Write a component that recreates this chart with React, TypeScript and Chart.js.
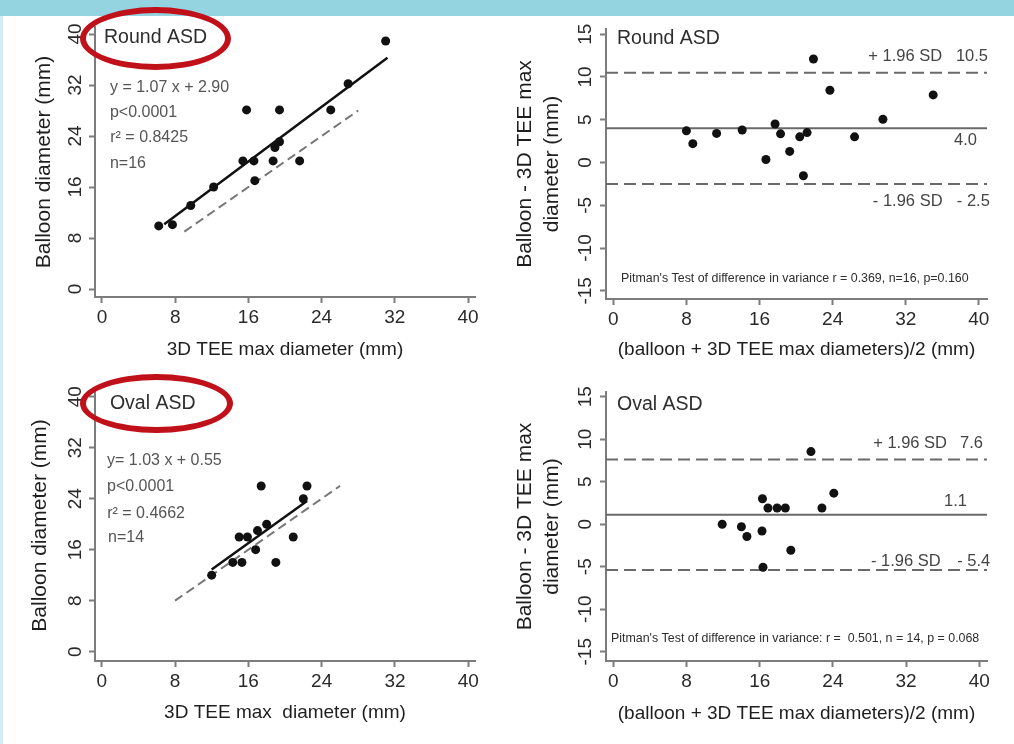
import React, { useEffect, useRef } from "react";
import { Chart, registerables } from "chart.js";

Chart.register(...registerables);

const FONT = "'Liberation Sans', Arial, Helvetica, sans-serif";

// ---------- tick labels ----------
const diameterTicks = [0, 8, 16, 24, 32, 40];
const differenceTicks = [-15, -10, -5, 0, 5, 10, 15];

// ---------- Round ASD ----------
const roundTee = [6.2, 7.7, 9.7, 12.2, 15.4, 15.8, 16.6, 16.7, 18.7, 18.9, 19.4, 19.4, 21.6, 25.0, 26.9, 31.0];
const roundBalloon = [9.9, 10.1, 13.1, 16.0, 20.1, 28.1, 20.1, 17.0, 20.1, 22.2, 23.1, 28.1, 20.1, 28.1, 32.2, 38.9];
const roundFitRange = [6.8, 31.2];
const roundFitCoef = [1.07, 2.9];
const roundIdentityRange = [9, 28];
const roundMean = [8.0, 8.7, 11.3, 14.1, 17.7, 16.7, 18.3, 19.3, 20.4, 21.2, 20.8, 21.9, 23.7, 26.4, 29.5, 35.0];
const roundDiff = [3.7, 2.2, 3.4, 3.8, 4.5, 0.35, 3.35, 1.3, 3.0, 3.5, -1.55, 12.1, 8.45, 3.0, 5.06, 7.9];
const roundLimits = [10.5, 4.0, -2.5];

// ---------- Oval ASD ----------
const ovalTee = [12.0, 14.3, 15.3, 15.0, 15.9, 16.8, 17.0, 17.4, 18.0, 19.0, 20.9, 22.0, 22.4];
const ovalBalloon = [12.0, 14.0, 14.0, 18.0, 18.0, 16.0, 19.0, 26.0, 20.0, 14.0, 18.0, 24.0, 26.0];
const ovalFitRange = [12.0, 22.4];
const ovalFitCoef = [1.03, 0.55];
const ovalIdentityRange = [8, 26];
const ovalMean = [11.9, 14.0, 14.6, 16.25, 16.3, 16.36, 16.9, 17.9, 18.8, 19.4, 21.6, 22.8, 24.1];
const ovalDiff = [0, -0.3, -1.45, -0.8, 3.0, -5.06, 1.9, 1.9, 1.9, -3.06, 8.54, 1.9, 3.65];
const ovalLimits = [7.6, 1.1, -5.4];

// ---------- helpers ----------
const AXIS = "#7c7c7c";

type Note = { x: number; y: number; text: string; size: number; color: string; align?: CanvasTextAlign };
type HLine = { value: number; dash: number[] };

const notesPlugin = {
  id: "notes",
  beforeDatasetsDraw(chart: any, _a: any, opts: any) {
    const { ctx, chartArea, scales } = chart;
    const lines: HLine[] = opts.hlines || [];
    lines.forEach((l) => {
      const py = scales.y.getPixelForValue(l.value);
      ctx.save();
      ctx.strokeStyle = "#6a6a6a";
      ctx.lineWidth = 2;
      ctx.setLineDash(l.dash);
      ctx.beginPath();
      ctx.moveTo(chartArea.left, py);
      ctx.lineTo(chartArea.right, py);
      ctx.stroke();
      ctx.restore();
    });
  },
  afterDraw(chart: any, _a: any, opts: any) {
    const { ctx, scales } = chart;
    const notes: Note[] = opts.notes || [];
    notes.forEach((n) => {
      ctx.save();
      ctx.font = `${n.size}px ${FONT}`;
      ctx.fillStyle = n.color;
      ctx.textBaseline = "middle";
      ctx.textAlign = n.align || "left";
      ctx.fillText(n.text, scales.x.getPixelForValue(n.x), scales.y.getPixelForValue(n.y));
      ctx.restore();
    });
  },
};

const points = (xs: number[], ys: number[]) => xs.map((x, i) => ({ x, y: ys[i] }));

const scatterSet = (xs: number[], ys: number[]) => ({
  data: points(xs, ys),
  pointRadius: 4.5,
  pointBackgroundColor: "#111",
  pointBorderWidth: 0,
  showLine: false,
  order: 0,
});

const fitSet = (range: number[], coef: number[]) => ({
  data: range.map((x) => ({ x, y: coef[0] * x + coef[1] })),
  showLine: true,
  borderColor: "#111",
  borderWidth: 2.5,
  pointRadius: 0,
  order: 1,
});

const identitySet = (range: number[]) => ({
  data: range.map((x) => ({ x, y: x })),
  showLine: true,
  borderColor: "#777",
  borderWidth: 2,
  borderDash: [9, 5],
  pointRadius: 0,
  order: 2,
});

interface Spec {
  datasets: any[];
  xMin: number; xMax: number; yMin: number; yMax: number;
  xTicks: number[]; yTicks: number[];
  xTitle: string; yTitle: string | string[];
  yTitleLH: number; yTitlePad: number; xTitlePad: number; yTickPad: number;
  yAxisWidth: number; xAxisHeight: number; padTop: number; padRight: number;
  notes: Note[]; hlines: HLine[];
}

function buildConfig(p: Spec): any {
  return {
    type: "scatter",
    data: { datasets: p.datasets },
    plugins: [notesPlugin],
    options: {
      responsive: false,
      animation: false,
      events: [],
      layout: { padding: { top: p.padTop, right: p.padRight, left: 0, bottom: 0 } },
      plugins: {
        legend: { display: false },
        tooltip: { enabled: false },
        notes: { notes: p.notes, hlines: p.hlines },
      },
      scales: {
        x: {
          type: "linear",
          position: "bottom",
          min: p.xMin,
          max: p.xMax,
          afterBuildTicks: (s: any) => { s.ticks = p.xTicks.map((v) => ({ value: v })); },
          afterFit: (s: any) => { s.height = p.xAxisHeight; },
          border: { display: true, color: AXIS, width: 2 },
          grid: { display: true, drawOnChartArea: false, drawTicks: true, tickLength: 6, tickWidth: 2, tickColor: AXIS },
          ticks: { autoSkip: false, maxRotation: 0, minRotation: 0, padding: 3, color: "#2a2a2a", font: { family: FONT, size: 19 } },
          title: { display: true, text: p.xTitle, color: "#1e1e1e", font: { family: FONT, size: 19 }, padding: { top: 0, bottom: p.xTitlePad } },
        },
        y: {
          type: "linear",
          position: "left",
          min: p.yMin,
          max: p.yMax,
          afterBuildTicks: (s: any) => { s.ticks = p.yTicks.map((v) => ({ value: v })); },
          afterFit: (s: any) => { s.width = p.yAxisWidth; },
          border: { display: true, color: AXIS, width: 2 },
          grid: { display: true, drawOnChartArea: false, drawTicks: true, tickLength: 6, tickWidth: 2, tickColor: AXIS },
          ticks: { autoSkip: false, minRotation: 90, maxRotation: 90, crossAlign: "center", padding: p.yTickPad, color: "#2a2a2a", font: { family: FONT, size: 19 } },
          title: { display: true, text: p.yTitle, color: "#1e1e1e", font: { family: FONT, size: 21, lineHeight: p.yTitleLH }, padding: { top: p.yTitlePad, bottom: 0 } },
        },
      },
    },
  };
}

const fmtLo = (v: number) => `- ${Math.abs(v).toFixed(1)}`;

const panel1: Spec = {
  datasets: [scatterSet(roundTee, roundBalloon), fitSet(roundFitRange, roundFitCoef), identitySet(roundIdentityRange)],
  xMin: -0.765, xMax: 40.765, yMin: -1.25, yMax: 41.1,
  xTicks: diameterTicks, yTicks: diameterTicks,
  xTitle: "3D TEE max diameter (mm)", yTitle: "Balloon diameter (mm)",
  yTitleLH: 1.2, yTitlePad: 31.4, xTitlePad: 10.6, yTickPad: 3,
  yAxisWidth: 95, xAxisHeight: 75, padTop: 27, padRight: 30,
  notes: [
    { x: 0.22, y: 39.4, text: "Round ASD", size: 19.5, color: "#2e2e2e" },
    { x: 0.87, y: 31.6, text: "y = 1.07 x + 2.90", size: 16, color: "#555" },
    { x: 0.87, y: 27.65, text: "p<0.0001", size: 16, color: "#555" },
    { x: 0.9, y: 23.7, text: "r² = 0.8425", size: 16, color: "#555" },
    { x: 0.87, y: 19.7, text: "n=16", size: 16, color: "#555" },
  ],
  hlines: [],
};

const panel2: Spec = {
  datasets: [scatterSet(roundMean, roundDiff)],
  xMin: -0.8, xMax: 40.89, yMin: -15.96, yMax: 15.61,
  xTicks: diameterTicks, yTicks: differenceTicks,
  xTitle: "(balloon + 3D TEE max diameters)/2 (mm)", yTitle: ["Balloon - 3D TEE max", "diameter (mm)"],
  yTitleLH: 1.27, yTitlePad: 11.7, xTitlePad: 10.6, yTickPad: 0.5,
  yAxisWidth: 106, xAxisHeight: 73, padTop: 29, padRight: 27,
  notes: [
    { x: 0.4, y: 14.45, text: "Round ASD", size: 19.5, color: "#2e2e2e" },
    { x: 27.9, y: 12.45, text: "+ 1.96 SD", size: 16.5, color: "#444" },
    { x: 41.0, y: 12.45, text: roundLimits[0].toFixed(1), size: 16.5, color: "#444", align: "right" },
    { x: 39.8, y: 2.55, text: roundLimits[1].toFixed(1), size: 16.5, color: "#444", align: "right" },
    { x: 28.4, y: -4.58, text: "- 1.96 SD", size: 16.5, color: "#444" },
    { x: 41.2, y: -4.58, text: fmtLo(roundLimits[2]), size: 16.5, color: "#444", align: "right" },
    { x: 0.84, y: -13.6, text: "Pitman's Test of difference in variance r = 0.369, n=16, p=0.160", size: 12.4, color: "#2e2e2e" },
  ],
  hlines: [
    { value: roundLimits[0], dash: [12, 6] },
    { value: roundLimits[1], dash: [] },
    { value: roundLimits[2], dash: [12, 6] },
  ],
};

const panel3: Spec = {
  datasets: [scatterSet(ovalTee, ovalBalloon), fitSet(ovalFitRange, ovalFitCoef), identitySet(ovalIdentityRange)],
  xMin: -0.73, xMax: 40.73, yMin: -1.46, yMax: 41.05,
  xTicks: diameterTicks, yTicks: diameterTicks,
  xTitle: "3D TEE max  diameter (mm)", yTitle: "Balloon diameter (mm)",
  yTitleLH: 1.2, yTitlePad: 27.4, xTitlePad: 19.5, yTickPad: 3,
  yAxisWidth: 95, xAxisHeight: 83, padTop: 18, padRight: 30,
  notes: [
    { x: 0.9, y: 38.96, text: "Oval ASD", size: 19.5, color: "#2e2e2e" },
    { x: 0.58, y: 29.96, text: "y= 1.03 x + 0.55", size: 16, color: "#555" },
    { x: 0.58, y: 25.9, text: "p<0.0001", size: 16, color: "#555" },
    { x: 0.6, y: 21.6, text: "r² = 0.4662", size: 16, color: "#555" },
    { x: 0.7, y: 17.95, text: "n=14", size: 16, color: "#555" },
  ],
  hlines: [],
};

const panel4: Spec = {
  datasets: [scatterSet(ovalMean, ovalDiff)],
  xMin: -0.8, xMax: 40.84, yMin: -16.09, yMax: 15.55,
  xTicks: diameterTicks, yTicks: differenceTicks,
  xTitle: "(balloon + 3D TEE max diameters)/2 (mm)", yTitle: ["Balloon - 3D TEE max", "diameter (mm)"],
  yTitleLH: 1.27, yTitlePad: 11.7, xTitlePad: 19.3, yTickPad: 0.5,
  yAxisWidth: 106, xAxisHeight: 83, padTop: 20, padRight: 27,
  notes: [
    { x: 0.4, y: 14.1, text: "Oval ASD", size: 19.5, color: "#2e2e2e" },
    { x: 28.4, y: 9.44, text: "+ 1.96 SD", size: 16.5, color: "#444" },
    { x: 40.4, y: 9.44, text: ovalLimits[0].toFixed(1), size: 16.5, color: "#444", align: "right" },
    { x: 38.65, y: 2.65, text: ovalLimits[1].toFixed(1), size: 16.5, color: "#444", align: "right" },
    { x: 28.15, y: -4.41, text: "- 1.96 SD", size: 16.5, color: "#444" },
    { x: 41.2, y: -4.41, text: fmtLo(ovalLimits[2]), size: 16.5, color: "#444", align: "right" },
    { x: -0.25, y: -13.5, text: "Pitman's Test of difference in variance: r =  0.501, n = 14, p = 0.068", size: 12.4, color: "#2e2e2e" },
  ],
  hlines: [
    { value: ovalLimits[0], dash: [12, 6] },
    { value: ovalLimits[1], dash: [] },
    { value: ovalLimits[2], dash: [12, 6] },
  ],
};

function Panel({ spec, left, top, width, height }: { spec: Spec; left: number; top: number; width: number; height: number }) {
  const ref = useRef<HTMLCanvasElement>(null);
  useEffect(() => {
    const chart = new Chart(ref.current as HTMLCanvasElement, buildConfig(spec));
    return () => chart.destroy();
  }, [spec]);
  return (
    <canvas
      ref={ref}
      width={width}
      height={height}
      style={{ position: "absolute", left, top, width, height }}
    />
  );
}

const ellipseStyle = (left: number, top: number, width: number, height: number): React.CSSProperties => ({
  position: "absolute",
  left,
  top,
  width,
  height,
  border: "6px solid #c0101a",
  borderRadius: "50%",
  boxSizing: "border-box",
  zIndex: 3,
});

export default function App() {
  return (
    <div style={{ position: "fixed", left: 0, top: 0, width: 1014, height: 744, background: "#ffffff", overflow: "hidden" }}>
      <Panel spec={panel1} left={0} top={0} width={505} height={372} />
      <Panel spec={panel2} left={500} top={0} width={514} height={372} />
      <Panel spec={panel3} left={0} top={372} width={505} height={372} />
      <Panel spec={panel4} left={500} top={372} width={514} height={372} />
      <div style={{ position: "absolute", left: 0, top: 0, width: 1014, height: 16, background: "#94d4e0", zIndex: 2 }} />
      <div style={{ position: "absolute", left: 0, top: 16, width: 3, height: 728, background: "#d3ecf6", zIndex: 2 }} />
      <div style={ellipseStyle(80, 7, 151, 63)} />
      <div style={ellipseStyle(80, 374, 153, 59)} />
    </div>
  );
}
